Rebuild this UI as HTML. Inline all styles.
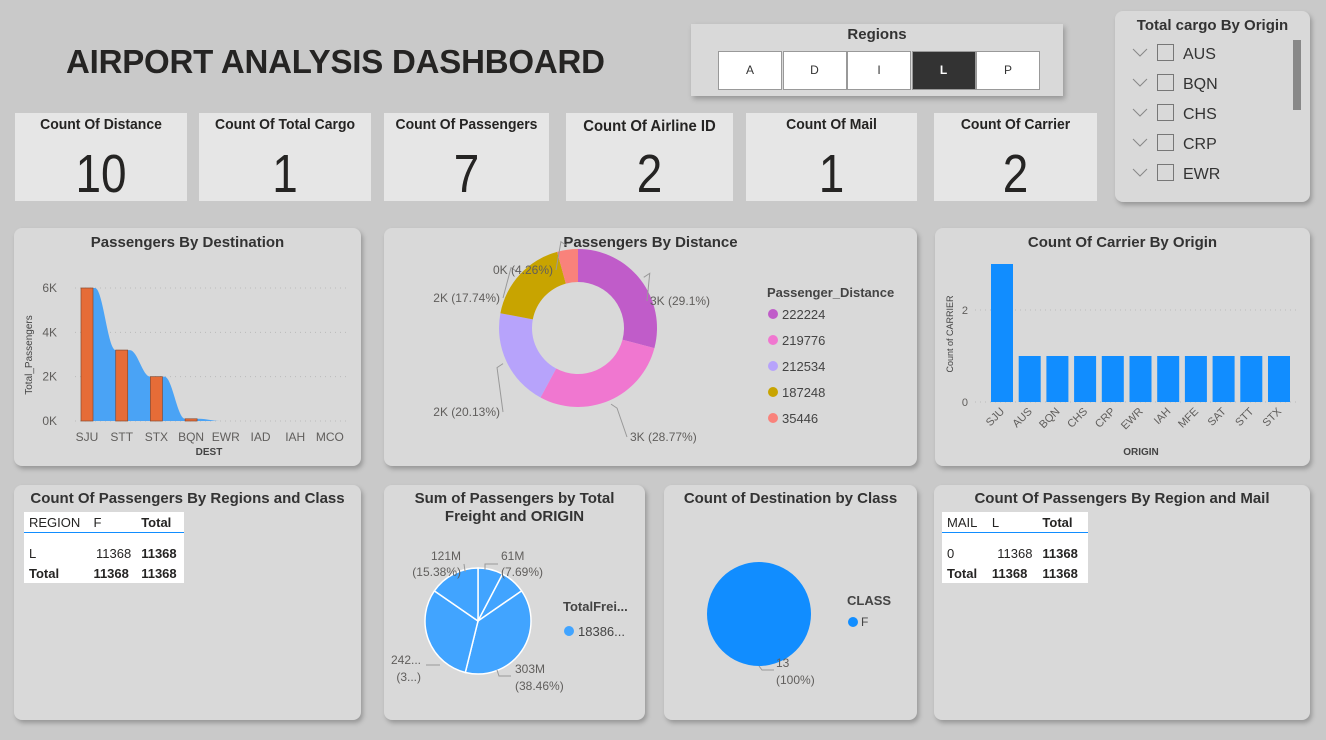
<!DOCTYPE html>
<html><head><meta charset="utf-8"><style>
body{margin:0;width:1326px;height:740px;background:#c9c9c9;font-family:"Liberation Sans",sans-serif;position:relative;overflow:hidden;color:#252423}
.p{position:absolute;background:#d9d9d9;border-radius:8px;box-shadow:2px 3px 5px rgba(0,0,0,.25)}
.t{position:absolute;left:0;right:0;text-align:center;font-weight:bold;font-size:15px;color:#333}
.kpi{position:absolute;top:113px;height:88px;background:#e6e6e6}
.kpi .l{position:absolute;top:3px;left:0;right:0;text-align:center;font-weight:bold;font-size:15px;color:#252423;transform:scaleX(.93)}
.kpi .v{position:absolute;top:30px;left:0;right:0;text-align:center;font-size:54px;color:#252423;transform:scaleX(.85)}
svg{position:absolute;left:0;top:0}
table{border-collapse:collapse;font-size:13px;background:#fff;position:absolute}
td{padding:2px 5px;height:16px}
</style></head><body>
<div style="position:absolute;left:66px;top:43px;font-size:33px;font-weight:bold;color:#252423;letter-spacing:-0.2px">AIRPORT ANALYSIS DASHBOARD</div>

<div class="p" style="left:691px;top:24px;width:372px;height:72px;border-radius:0">
<div class="t" style="top:2px">Regions</div>
</div>
<div id="regbtns"></div>

<div class="p" style="left:1115px;top:11px;width:195px;height:191px">
<div class="t" style="top:6px;font-size:15px">Total cargo By Origin</div>
<div style="position:absolute;left:178px;top:29px;width:8px;height:70px;background:#888"></div>
<div id="cargoList"></div>
</div>

<div class="kpi" style="left:15px;width:172px"><div class="l">Count Of Distance</div><div class="v">10</div></div>
<div class="kpi" style="left:199px;width:172px"><div class="l">Count Of Total Cargo</div><div class="v">1</div></div>
<div class="kpi" style="left:384px;width:165px"><div class="l">Count Of Passengers</div><div class="v">7</div></div>
<div class="kpi" style="left:566px;width:167px"><div class="l" style="font-size:16px;top:5px">Count Of Airline ID</div><div class="v">2</div></div>
<div class="kpi" style="left:746px;width:171px"><div class="l">Count Of Mail</div><div class="v">1</div></div>
<div class="kpi" style="left:934px;width:163px"><div class="l">Count Of Carrier</div><div class="v">2</div></div>

<div class="p" style="left:14px;top:228px;width:347px;height:238px"><div class="t" style="top:6px">Passengers By Destination</div></div>
<div class="p" style="left:384px;top:228px;width:533px;height:238px"><div class="t" style="top:6px">Passengers By Distance</div></div>
<div class="p" style="left:935px;top:228px;width:375px;height:238px"><div class="t" style="top:6px">Count Of Carrier By Origin</div></div>

<div class="p" style="left:14px;top:485px;width:347px;height:235px"><div class="t" style="top:5px">Count Of Passengers By Regions and Class</div>
<table style="left:10px;top:27px;width:160px"><tr style="border-bottom:1px solid #118dff"><td>REGION</td><td>F</td><td><b>Total</b></td></tr><tr><td style="padding-top:12px">L</td><td style="padding-top:12px;text-align:right">11368</td><td style="padding-top:12px"><b>11368</b></td></tr><tr><td><b>Total</b></td><td><b>11368</b></td><td><b>11368</b></td></tr></table></div>
<div class="p" style="left:384px;top:485px;width:261px;height:235px"><div class="t" style="top:5px;line-height:18px">Sum of Passengers by Total<br>Freight and ORIGIN</div></div>
<div class="p" style="left:664px;top:485px;width:253px;height:235px"><div class="t" style="top:5px">Count of Destination by Class</div></div>
<div class="p" style="left:934px;top:485px;width:376px;height:235px"><div class="t" style="top:5px">Count Of Passengers By Region and Mail</div>
<table style="left:8px;top:27px;width:146px"><tr style="border-bottom:1px solid #118dff"><td>MAIL</td><td>L</td><td><b>Total</b></td></tr><tr><td style="padding-top:12px">0</td><td style="padding-top:12px;text-align:right">11368</td><td style="padding-top:12px"><b>11368</b></td></tr><tr><td><b>Total</b></td><td><b>11368</b></td><td><b>11368</b></td></tr></table></div>

<svg id="svg" width="1326" height="740" font-family="Liberation Sans, sans-serif"></svg>

<script>
const regions=['A','D','I','L','P'];
const cargoOrigins=['AUS','BQN','CHS','CRP','EWR'];
const destCats=['SJU','STT','STX','BQN','EWR','IAD','IAH','MCO'];
const destVals=[6000,3200,2000,100,0,0,0,0];
const destTicks=[0,2000,4000,6000];
const distLabels=['222224','219776','212534','187248','35446'];
const distPct=[29.1,28.77,20.13,17.74,4.26];
const distText=['3K (29.1%)','3K (28.77%)','2K (20.13%)','2K (17.74%)','0K (4.26%)'];
const carrierCats=['SJU','AUS','BQN','CHS','CRP','EWR','IAH','MFE','SAT','STT','STX'];
const carrierVals=[3,1,1,1,1,1,1,1,1,1,1];
const carrierTicks=[0,2];
const freightPct=[7.69,7.69,38.46,30.77,15.38];
const classVals=[13];

const NS='http://www.w3.org/2000/svg';
const svg=document.getElementById('svg');
function el(tag,attrs,parent){const e=document.createElementNS(NS,tag);for(const k in attrs)e.setAttribute(k,attrs[k]);(parent||svg).appendChild(e);return e;}
function txt(x,y,s,attrs){const e=el('text',Object.assign({x:x,y:y,'font-size':12,fill:'#605e5c'},attrs||{}));e.textContent=s;return e;}

const rb=document.getElementById('regbtns');
regions.forEach((r,i)=>{const d=document.createElement('div');


const sel=r==='L';
d.style.cssText='position:absolute;top:51px;height:37px;width:62px;left:'+(718+i*64.5)+'px;border:1px solid #999;background:'+(sel?'#333':'#fff')+';color:'+(sel?'#fff':'#333')+';font-size:12px;text-align:center;line-height:37px;font-weight:'+(sel?'bold':'normal');
d.textContent=r;rb.appendChild(d);});
const cl=document.getElementById('cargoList');
cargoOrigins.forEach((o,i)=>{const d=document.createElement('div');


d.style.cssText='position:absolute;left:16px;top:'+(33+i*30)+'px;height:22px;font-size:16px;color:#333;';
d.innerHTML='<svg width="20" height="12" style="position:static;display:inline-block;vertical-align:1px;margin-right:6px"><polyline points="2,3 9,10 16,3" fill="none" stroke="#888" stroke-width="1"/></svg><span style="display:inline-block;width:15px;height:15px;border:1px solid #777;vertical-align:-2px;margin-right:9px"></span>'+o;
cl.appendChild(d);});

// Chart 1
(function(){
const x0=87,step=34.7,y0=421,yk=133/6000;
const Y=v=>y0-v*yk, X=i=>x0+i*step;
destTicks.forEach(t=>{el('line',{x1:75,x2:350,y1:Y(t),y2:Y(t),stroke:'#bbb','stroke-dasharray':'1 4'});
const e=txt(57,Y(t)+4,(t/1000)+'K',{'text-anchor':'end','font-size':12});});
let d='M'+(X(0)-6)+' '+y0;
destVals.forEach((v,i)=>{const xa=X(i)-6,xb=X(i)+8;d+=' L'+xa+' '+Y(v)+' L'+xb+' '+Y(v);
if(i<destVals.length-1){const nv=destVals[i+1],xn=X(i+1)-6;d+=' C'+(xb+8)+' '+Y(v)+' '+(xn-8)+' '+Y(nv)+' '+xn+' '+Y(nv);}});
d+=' L'+(X(destVals.length-1)+8)+' '+y0+' Z';
const a=el('path',{d:d,fill:'#4aa3f5'});
destVals.forEach((v,i)=>{if(v>0){const b=el('rect',{x:X(i)-6,y:Y(v),width:12,height:v*yk,fill:'#e66c37',stroke:'#8a4a2e','stroke-width':0.7});
}
const e=txt(X(i),441,destCats[i],{'text-anchor':'middle'});});
const xt=txt(209,455,'DEST',{'text-anchor':'middle','font-size':10,'font-weight':'bold',fill:'#444'});
const yt=txt(32,355,'Total_Passengers',{'text-anchor':'middle','font-size':10,fill:'#444',transform:'rotate(-90 32 355)'});
})();

// Chart 2 donut
(function(){
const cx=578,cy=328,R=79,r=46;const cols=['#c05cc9','#f077d0','#b7a3fb','#c8a400','#f9827b'];
const tot=distPct.reduce((a,b)=>a+b,0);let a0=-Math.PI/2;
const lp=[[650,305,'start'],[630,441,'start'],[500,416,'end'],[500,302,'end'],[553,274,'end']];
distPct.forEach((p,i)=>{const a1=a0+p/tot*2*Math.PI;const lg=(a1-a0)>Math.PI?1:0;
const P=(rr,a)=>(cx+rr*Math.cos(a))+' '+(cy+rr*Math.sin(a));
const s=el('path',{d:'M'+P(R,a0)+' A'+R+' '+R+' 0 '+lg+' 1 '+P(R,a1)+' L'+P(r,a1)+' A'+r+' '+r+' 0 '+lg+' 0 '+P(r,a0)+' Z',fill:cols[i]});

const am=(a0+a1)/2;
const ex=cx+(R+4)*Math.cos(am),ey=cy+(R+4)*Math.sin(am),side=lp[i][2]=='start'?1:-1;
el('polyline',{points:ex+','+ey+' '+(ex+side*6)+','+(ey+Math.sign(Math.sin(am))*4)+' '+(lp[i][0]-side*3)+','+(lp[i][1]-4),fill:'none',stroke:'#999'});
const t=txt(lp[i][0],lp[i][1],distText[i],{'text-anchor':lp[i][2]});
a0=a1;});
const lt=txt(767,297,'Passenger_Distance',{'font-size':13,'font-weight':'bold',fill:'#444'});
distLabels.forEach((l,i)=>{const c=el('circle',{cx:773,cy:314+i*26,r:5,fill:cols[i]});
const t=txt(782,319+i*26,l,{'font-size':13,fill:'#444'});});
})();

// Chart 3
(function(){
const x0=1002,step=27.7,y0=402,yk=46;const X=i=>x0+i*step,Y=v=>y0-v*yk;
carrierTicks.forEach(t=>{el('line',{x1:975,x2:1300,y1:Y(t),y2:Y(t),stroke:'#bbb','stroke-dasharray':'1 4'});
const e=txt(968,Y(t)+4,String(t),{'text-anchor':'end','font-size':11});});
carrierVals.forEach((v,i)=>{const b=el('rect',{x:X(i)-11,y:Y(v),width:22,height:v*yk,fill:'#118dff'});

const t=txt(X(i)+3,412,carrierCats[i],{'text-anchor':'end','font-size':11,transform:'rotate(-45 '+(X(i)+3)+' 412)'});});
const xt=txt(1141,455,'ORIGIN',{'text-anchor':'middle','font-size':10,'font-weight':'bold',fill:'#444'});
const yt=txt(953,334,'Count of CARRIER',{'text-anchor':'middle','font-size':9,fill:'#444',transform:'rotate(-90 953 334)'});
})();

// Chart 4 freight pie
(function(){
const cx=478,cy=621,R=53;const tot=freightPct.reduce((a,b)=>a+b,0);let a0=-Math.PI/2;
freightPct.forEach((p,i)=>{const a1=a0+p/tot*2*Math.PI;const lg=(a1-a0)>Math.PI?1:0;
const P=a=>(cx+R*Math.cos(a))+' '+(cy+R*Math.sin(a));
const s=el('path',{d:'M'+cx+' '+cy+' L'+P(a0)+' A'+R+' '+R+' 0 '+lg+' 1 '+P(a1)+' Z',fill:'#41a4ff',stroke:'#fff','stroke-width':1.5});
a0=a1;});
[[501,560,'61M','start'],[501,576,'(7.69%)','start'],[461,560,'121M','end'],[461,576,'(15.38%)','end'],[515,673,'303M','start'],[515,690,'(38.46%)','start'],[421,664,'242...','end'],[421,681,'(3...)','end']].forEach(l=>{
const t=txt(l[0],l[1],l[2],{'text-anchor':l[3]});});
el('polyline',{points:'485,570 485,564 498,564',fill:'none',stroke:'#999'});
el('polyline',{points:'464,564 465,571 466,571',fill:'none',stroke:'#999'});
el('polyline',{points:'497,670 499,676 511,676',fill:'none',stroke:'#999'});
el('polyline',{points:'440,665 426,665',fill:'none',stroke:'#999'});
const lt=txt(563,611,'TotalFrei...',{'font-size':13,'font-weight':'bold',fill:'#444'});
el('circle',{cx:569,cy:631,r:5,fill:'#41a4ff'});
const le=txt(578,636,'18386...',{'font-size':13,fill:'#444'});
})();

// Chart 5 class pie
(function(){
const cx=759,cy=614,R=52;const c=el('circle',{cx:cx,cy:cy,r:R*Math.sqrt(classVals[0]/classVals[0]),fill:'#118dff'});

el('polyline',{points:'759,666 762,670 774,670',fill:'none',stroke:'#999'});
const t1=txt(776,667,String(classVals[0]),{});
const t2=txt(776,684,'(100%)',{});
const lt=txt(847,605,'CLASS',{'font-size':13,'font-weight':'bold',fill:'#444'});
el('circle',{cx:853,cy:622,r:5,fill:'#118dff'});
const le=txt(861,626,'F',{'font-size':12,fill:'#444'});
})();
</script>
</body></html>
